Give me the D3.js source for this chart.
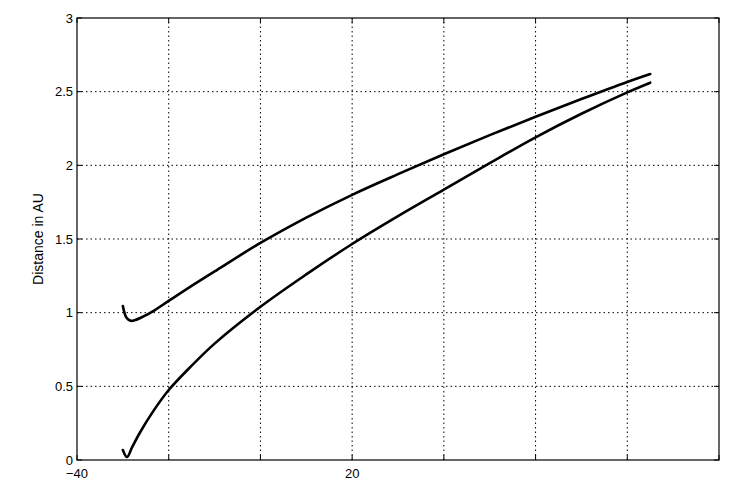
<!DOCTYPE html>
<html>
<head>
<meta charset="utf-8">
<script src="https://cdn.jsdelivr.net/npm/d3@7"></script>
<style>
  html, body { margin: 0; padding: 0; background: #fff; }
  svg { display: block; font-family: "Liberation Sans", Arial, sans-serif; }
  .grid line { stroke: #000; stroke-width: 1; stroke-dasharray: 1.5,3; }
  .tick-lbl { font-size: 13px; fill: #000; }
  .curve { fill: none; stroke: #000; stroke-width: 2.6; stroke-linejoin: round; stroke-linecap: round; }
</style>
</head>
<body>
<svg id="chart" width="735" height="488"></svg>
<script>
// axis ticks — only two of the x ticks carry labels in the original
const xTicks = [-40, -20, 0, 20, 40, 60, 80, 100];
const xLabels = { '-40': '\u221240', '20': '20' };
const yTicks = [0, 0.5, 1, 1.5, 2, 2.5, 3];

// upper curve
const upperX = [-30.0, -29.2, -28.3, -27.3, -25.5, -23, -20, -15, -10, 0, 10, 20, 30, 40, 50, 60, 70, 80, 85];
const upperY = [1.045, 0.965, 0.945, 0.950, 0.975, 1.018, 1.08, 1.182, 1.28, 1.473, 1.645, 1.80, 1.94, 2.075, 2.205, 2.33, 2.45, 2.566, 2.62];

// lower curve
const lowerX = [-30.0, -29.1, -28, -26.3, -23.4, -20, -15, -10, 0, 10, 20, 30, 40, 50, 60, 70, 80, 85];
const lowerY = [0.068, 0.02, 0.085, 0.185, 0.33, 0.475, 0.64, 0.79, 1.04, 1.26, 1.466, 1.655, 1.835, 2.015, 2.19, 2.35, 2.495, 2.561];

const svg = d3.select('#chart');
const m = { left: 77, right: 16, top: 18, bottom: 28 };
const W = 735, H = 488;

const x = d3.scaleLinear().domain([-40, 100]).range([m.left, W - m.right]);
const y = d3.scaleLinear().domain([0, 3]).range([H - m.bottom, m.top]);

// grid
const grid = svg.append('g').attr('class', 'grid');
grid.selectAll('line.v').data(xTicks.slice(1, -1)).join('line').attr('class', 'v')
  .attr('x1', (d) => x(d)).attr('x2', (d) => x(d)).attr('y1', y(0)).attr('y2', y(3));
grid.selectAll('line.h').data(yTicks.slice(1, -1)).join('line').attr('class', 'h')
  .attr('x1', x(-40)).attr('x2', x(100)).attr('y1', (d) => y(d)).attr('y2', (d) => y(d));

// inward ticks on all four sides
const tk = 5;
const axes = svg.append('g').attr('stroke', '#000').attr('stroke-width', 1);
axes.selectAll('line.xb').data(xTicks).join('line')
  .attr('x1', (d) => x(d)).attr('x2', (d) => x(d)).attr('y1', y(0)).attr('y2', y(0) - tk);
axes.selectAll('line.xt').data(xTicks).join('line')
  .attr('x1', (d) => x(d)).attr('x2', (d) => x(d)).attr('y1', y(3)).attr('y2', y(3) + tk);
axes.selectAll('line.yl').data(yTicks).join('line')
  .attr('x1', x(-40)).attr('x2', x(-40) + tk).attr('y1', (d) => y(d)).attr('y2', (d) => y(d));
axes.selectAll('line.yr').data(yTicks).join('line')
  .attr('x1', x(100)).attr('x2', x(100) - tk).attr('y1', (d) => y(d)).attr('y2', (d) => y(d));
svg.append('rect')
  .attr('x', x(-40)).attr('y', y(3)).attr('width', x(100) - x(-40)).attr('height', y(0) - y(3))
  .attr('fill', 'none').attr('stroke', '#000').attr('stroke-width', 1.2);

// tick labels
svg.append('g').selectAll('text').data(yTicks).join('text')
  .attr('class', 'tick-lbl').attr('x', x(-40) - 4).attr('y', (d) => y(d) + 4.5)
  .attr('text-anchor', 'end').text((d) => d);
svg.append('g').selectAll('text').data(xTicks.filter((d) => xLabels[d] !== undefined)).join('text')
  .attr('class', 'tick-lbl').attr('x', (d) => x(d)).attr('y', y(0) + 18)
  .attr('text-anchor', 'middle').text((d) => xLabels[d]);

// y-axis title
svg.append('text').attr('class', 'tick-lbl')
  .attr('transform', `translate(43,${(y(0) + y(3)) / 2}) rotate(-90)`)
  .attr('text-anchor', 'middle').style('font-size', '14px').text('Distance in AU');

// curves
const line = d3.line().x((d) => x(d[0])).y((d) => y(d[1])).curve(d3.curveCatmullRom.alpha(0.5));
svg.append('path').attr('class', 'curve').attr('d', line(d3.zip(upperX, upperY)));
svg.append('path').attr('class', 'curve').attr('d', line(d3.zip(lowerX, lowerY)));
</script>
</body>
</html>
